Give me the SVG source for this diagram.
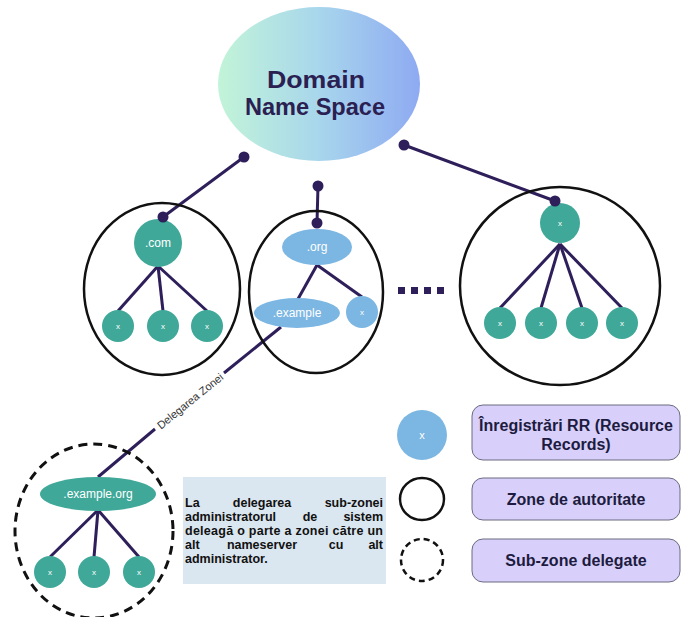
<svg xmlns="http://www.w3.org/2000/svg" width="686" height="617" viewBox="0 0 686 617">
  <defs>
    <linearGradient id="dnsGrad" x1="0" y1="0" x2="1" y2="0">
      <stop offset="0" stop-color="#c2f4d8"/>
      <stop offset="0.5" stop-color="#a8d6ec"/>
      <stop offset="1" stop-color="#8eaaf2"/>
    </linearGradient>
  </defs>
  <style>
    .link { stroke: #2e1f5a; stroke-width: 3; fill: none; }
    .dot { fill: #2e1f5a; }
    .zone { fill: none; stroke: #111; stroke-width: 2.5; }
    .sub { fill: none; stroke: #111; stroke-width: 3; stroke-dasharray: 9 6; }
    .teal { fill: #3fa899; }
    .blue { fill: #7cb6e2; }
    .lbl { font-family: "Liberation Sans", Arial, sans-serif; fill: #ffffff; text-anchor: middle; dominant-baseline: central; }
    .x { font-size: 8px; }
    .nm { font-size: 12px; }
    .legend { fill: #d8d0fa; stroke: #6a6a80; stroke-width: 1; }
    .ltxt { font-family: "Liberation Sans", Arial, sans-serif; font-weight: bold; font-size: 16px; fill: #1d1b40; text-anchor: middle; }
    .note { font-family: "Liberation Sans", Arial, sans-serif; font-weight: bold; font-size: 12.5px; fill: #111; }
  </style>

  <!-- connectors -->
  <g id="connectors">
    <line class="link" x1="244" y1="157" x2="163" y2="217"/>
    <line class="link" x1="318" y1="186" x2="317" y2="223"/>
    <line class="link" x1="404" y1="145" x2="555" y2="201"/>
    <!-- .com children -->
    <line class="link" x1="158" y1="266" x2="118" y2="311"/>
    <line class="link" x1="158" y1="266" x2="163" y2="311"/>
    <line class="link" x1="158" y1="266" x2="207" y2="311"/>
    <!-- .org children -->
    <line class="link" x1="317" y1="265" x2="298" y2="299"/>
    <line class="link" x1="317" y1="265" x2="362" y2="297"/>
    <!-- right zone children -->
    <line class="link" x1="560" y1="244" x2="500" y2="308"/>
    <line class="link" x1="560" y1="244" x2="541" y2="308"/>
    <line class="link" x1="560" y1="244" x2="582" y2="308"/>
    <line class="link" x1="560" y1="244" x2="622" y2="308"/>
    <!-- delegation link, split around its label -->
    <line class="link" x1="281" y1="327" x2="224" y2="373"/>
    <line class="link" x1="155" y1="429" x2="98" y2="477"/>
    <text x="190" y="401" transform="rotate(-39 190 401)" font-family="Liberation Sans, Arial, sans-serif" font-size="11" fill="#333" text-anchor="middle" dominant-baseline="central">Delegarea Zonei</text>
    <!-- .example.org children -->
    <line class="link" x1="98" y1="510" x2="50" y2="557"/>
    <line class="link" x1="98" y1="510" x2="94" y2="557"/>
    <line class="link" x1="98" y1="510" x2="139" y2="557"/>
  </g>

  <!-- root -->
  <g id="root">
    <ellipse cx="319" cy="84" rx="101" ry="77" fill="url(#dnsGrad)"/>
    <text x="316" y="88" font-family="Liberation Sans, Arial, sans-serif" font-weight="bold" font-size="24" fill="#2b2052" text-anchor="middle" textLength="98" lengthAdjust="spacingAndGlyphs">Domain</text>
    <text x="315" y="115" font-family="Liberation Sans, Arial, sans-serif" font-weight="bold" font-size="24" fill="#2b2052" text-anchor="middle" textLength="140" lengthAdjust="spacingAndGlyphs">Name Space</text>
  </g>

  <g id="dots">
    <circle class="dot" cx="244" cy="157" r="5.5"/>
    <circle class="dot" cx="318" cy="186" r="5.5"/>
    <circle class="dot" cx="404" cy="145" r="5.5"/>
  </g>

  <!-- .com zone -->
  <g id="zone-com">
    <ellipse class="zone" cx="162" cy="289" rx="78" ry="86"/>
    <circle class="teal" cx="158" cy="243" r="24"/>
    <text class="lbl nm" x="158" y="243">.com</text>
    <circle class="dot" cx="163" cy="217" r="5.5"/>
    <circle class="teal" cx="118" cy="326" r="16"/>
    <text class="lbl x" x="118" y="326">x</text>
    <circle class="teal" cx="163" cy="326" r="16"/>
    <text class="lbl x" x="163" y="326">x</text>
    <circle class="teal" cx="207" cy="326" r="16"/>
    <text class="lbl x" x="207" y="326">x</text>
  </g>

  <!-- .org zone -->
  <g id="zone-org">
    <ellipse class="zone" cx="316" cy="292" rx="67" ry="81"/>
    <ellipse class="blue" cx="317" cy="247" rx="35" ry="18"/>
    <text class="lbl nm" x="317" y="247">.org</text>
    <circle class="dot" cx="317" cy="223" r="5.5"/>
    <ellipse class="blue" cx="297" cy="313" rx="43" ry="15"/>
    <text class="lbl nm" x="297" y="313">.example</text>
    <circle class="blue" cx="362" cy="312" r="16"/>
    <text class="lbl x" x="362" y="312">x</text>
  </g>

  <!-- ellipsis -->
  <g id="more" fill="#2e1f5a">
    <rect x="398" y="287" width="7" height="7"/>
    <rect x="411" y="287" width="7" height="7"/>
    <rect x="424" y="287" width="7" height="7"/>
    <rect x="437" y="287" width="7" height="7"/>
  </g>

  <!-- right zone -->
  <g id="zone-right">
    <ellipse class="zone" cx="560" cy="286" rx="100" ry="99"/>
    <circle class="teal" cx="560" cy="223" r="20"/>
    <text class="lbl x" x="560" y="223">x</text>
    <circle class="dot" cx="555" cy="201" r="5.5"/>
    <circle class="teal" cx="500" cy="323" r="16"/>
    <text class="lbl x" x="500" y="323">x</text>
    <circle class="teal" cx="541" cy="323" r="16"/>
    <text class="lbl x" x="541" y="323">x</text>
    <circle class="teal" cx="582" cy="323" r="16"/>
    <text class="lbl x" x="582" y="323">x</text>
    <circle class="teal" cx="622" cy="323" r="16"/>
    <text class="lbl x" x="622" y="323">x</text>
  </g>

  <!-- delegated sub-zone -->
  <g id="zone-example-org">
    <ellipse class="sub" cx="94" cy="531" rx="79" ry="87"/>
    <ellipse class="teal" cx="98" cy="494" rx="58" ry="17"/>
    <text class="lbl nm" x="98" y="494">.example.org</text>
    <circle class="teal" cx="50" cy="572" r="16"/>
    <text class="lbl x" x="50" y="572">x</text>
    <circle class="teal" cx="94" cy="572" r="16"/>
    <text class="lbl x" x="94" y="572">x</text>
    <circle class="teal" cx="139" cy="572" r="16"/>
    <text class="lbl x" x="139" y="572">x</text>
  </g>

  <!-- explanation note (justified) -->
  <g id="note">
    <rect x="183" y="477" width="203" height="107" fill="#dae6f0"/>
    <text class="note" x="185" y="507">La</text>
    <text class="note" x="262" y="507" text-anchor="middle">delegarea</text>
    <text class="note" x="383" y="507" text-anchor="end">sub-zonei</text>
    <text class="note" x="185" y="521">administratorul</text>
    <text class="note" x="310" y="521" text-anchor="middle">de</text>
    <text class="note" x="383" y="521" text-anchor="end">sistem</text>
    <text class="note" x="185" y="535" textLength="198" lengthAdjust="spacing">deleagă o parte a zonei către un</text>
    <text class="note" x="185" y="549">alt</text>
    <text class="note" x="262" y="549" text-anchor="middle">nameserver</text>
    <text class="note" x="336" y="549" text-anchor="middle">cu</text>
    <text class="note" x="383" y="549" text-anchor="end">alt</text>
    <text class="note" x="185" y="563">administrator.</text>
  </g>

  <!-- legend -->
  <g id="legend-rr">
    <circle class="blue" cx="422" cy="435" r="25"/>
    <text class="lbl" x="422" y="435" font-size="11">x</text>
    <rect class="legend" x="472" y="405" width="208" height="55" rx="11"/>
    <text class="ltxt" x="576" y="431">Înregistrări RR (Resource</text>
    <text class="ltxt" x="576" y="450">Records)</text>
  </g>
  <g id="legend-zone">
    <ellipse class="zone" cx="422" cy="499" rx="22" ry="21"/>
    <rect class="legend" x="472" y="478" width="208" height="42" rx="11"/>
    <text class="ltxt" x="576" y="505">Zone de autoritate</text>
  </g>
  <g id="legend-sub">
    <circle fill="none" stroke="#111" stroke-width="2.5" stroke-dasharray="6 4" cx="422" cy="560" r="21"/>
    <rect class="legend" x="472" y="539" width="208" height="43" rx="11"/>
    <text class="ltxt" x="576" y="566">Sub-zone delegate</text>
  </g>
</svg>
